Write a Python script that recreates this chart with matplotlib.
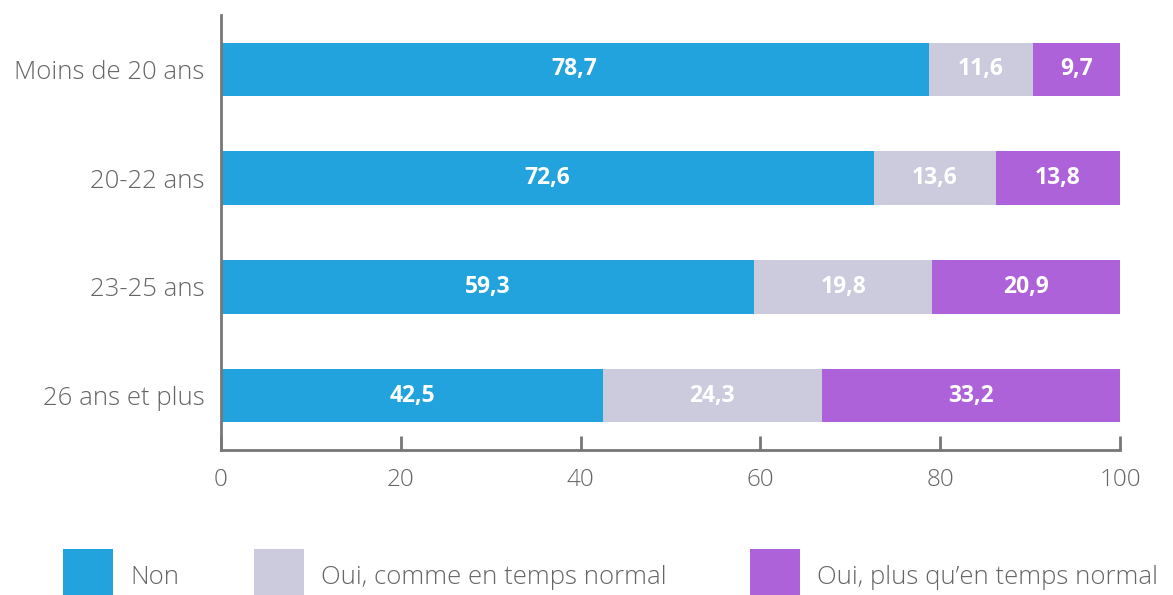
import matplotlib
matplotlib.use("Agg")
import matplotlib.pyplot as plt
from matplotlib.patches import Rectangle

categories = ["Moins de 20 ans", "20-22 ans", "23-25 ans", "26 ans et plus"]
series_names = ["Non", "Oui, comme en temps normal", "Oui, plus qu\u2019en temps normal"]
non = [78.7, 72.6, 59.3, 42.5]
oui_normal = [11.6, 13.6, 19.8, 24.3]
oui_plus = [9.7, 13.8, 20.9, 33.2]
xticks = [0, 20, 40, 60, 80, 100]

colors = ["#22a3dd", "#cccbde", "#ad62d9"]
axis_color = "#777777"
text_color = "#666666"
plt.rcParams['font.family'] = ['Open Sans', 'DejaVu Sans']

fig = plt.figure(figsize=(11.73, 5.95), dpi=100)
ax = fig.add_axes([221/1173, 1-450/595, (1120-221)/1173, (450-15)/595])

ypos = list(range(len(categories)))
series = [non, oui_normal, oui_plus]
left = [0.0]*len(categories)
for vals, col in zip(series, colors):
    bars = ax.barh(ypos, vals, left=left, height=0.49, color=col, edgecolor='none')
    for b, v, l in zip(bars, vals, left):
        ax.text(l + v/2, b.get_y() + b.get_height()/2, f"{v:.1f}".replace('.', ','),
                ha='center', va='center', color='white', fontsize=16.5, fontweight='bold')
    left = [l + v for l, v in zip(left, vals)]

ax.set_ylim(3.5, -0.5)
ax.set_xlim(0, 100)
ax.set_yticks(ypos)
ax.set_yticklabels(categories)
ax.set_xticks(xticks)
ax.set_xticklabels([str(t) for t in xticks])
ax.tick_params(axis='y', length=0, pad=12, labelsize=18.5, labelcolor=text_color)
ax.tick_params(axis='x', direction='in', length=10, width=2, color=axis_color,
               pad=13, labelsize=17.5, labelcolor=text_color)
for s in ['top', 'right']:
    ax.spines[s].set_visible(False)
for s in ['left', 'bottom']:
    ax.spines[s].set_color(axis_color)
    ax.spines[s].set_linewidth(2)
for lbl in ax.get_xticklabels() + ax.get_yticklabels():
    lbl.set_fontweight('light')

# legend
W, H = 1173, 595
leg_x = [63, 254, 750]
for x0, col, name in zip(leg_x, colors, series_names):
    fig.add_artist(Rectangle((x0/W, 0), 50/W, 46/H, transform=fig.transFigure,
                             facecolor=col, edgecolor='none'))
    fig.text((x0+67)/W, 1-577/H, name, ha='left', va='center', fontsize=18.5,
             color=text_color, fontweight='light')

fig.savefig("out.png", dpi=100)
